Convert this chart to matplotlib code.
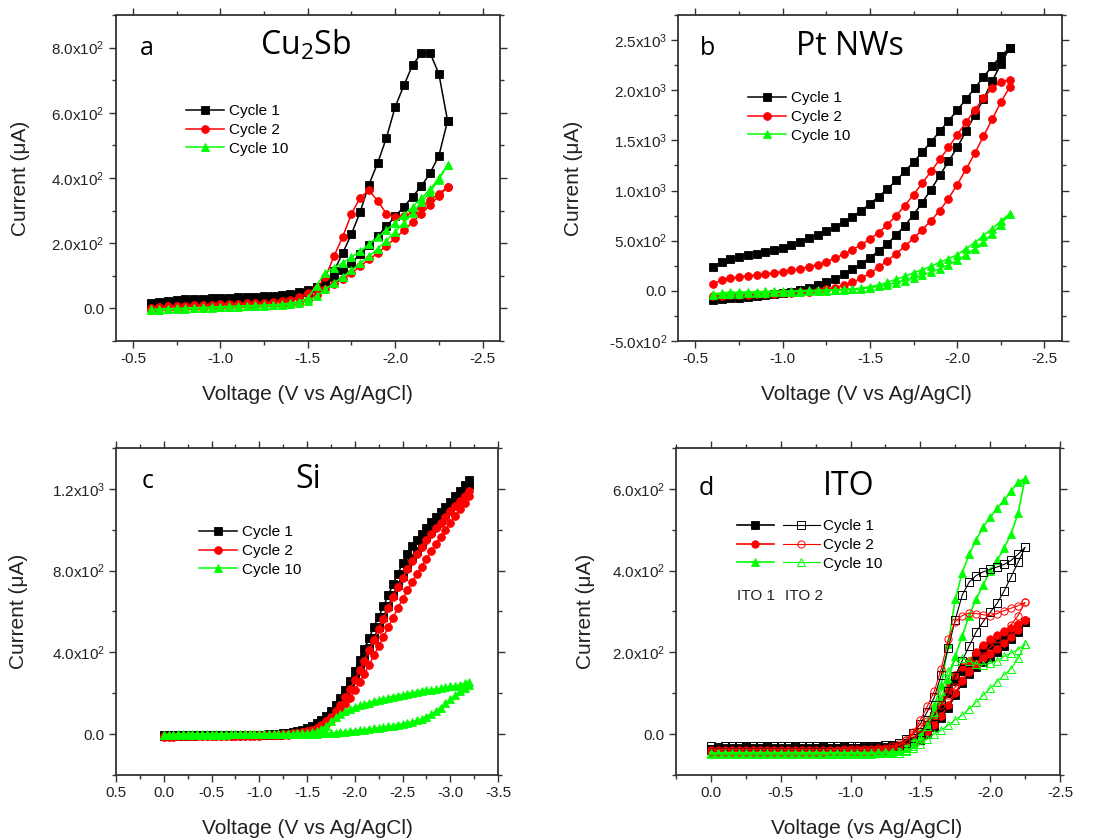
import numpy as np
import matplotlib
matplotlib.use('Agg')
import matplotlib.pyplot as plt
from matplotlib.ticker import MultipleLocator, FuncFormatter
from matplotlib.legend_handler import HandlerTuple

plt.rcParams['font.family'] = ['Liberation Sans', 'DejaVu Sans']
plt.rcParams['axes.unicode_minus'] = False

BLACK, RED, GREEN = '#000000', '#ff0000', '#00ff00'

# ── data (current in uA; "fwd" = cathodic sweep, "rev" = return sweep, both listed along V) ──
# panel a: Cu2Sb
V_A = [-0.60, -0.65, -0.70, -0.75, -0.80, -0.85, -0.90, -0.95, -1.00, -1.05, -1.10, -1.15,
       -1.20, -1.25, -1.30, -1.35, -1.40, -1.45, -1.50, -1.55, -1.60, -1.65, -1.70, -1.75,
       -1.80, -1.85, -1.90, -1.95, -2.00, -2.05, -2.10, -2.15, -2.20, -2.25, -2.30]
A_C1_FWD = [18, 21, 24, 26, 28, 29, 30, 31, 32, 33, 34, 35, 36, 37, 39, 41, 44, 49, 57,
            66, 77, 115, 170, 228, 296, 380, 446, 523, 618, 684, 747, 782, 783, 720, 575]
A_C1_REV = [14, 17, 19, 21, 23, 24, 25, 26, 27, 28, 29, 30, 31, 32, 34, 36, 39, 42, 50,
            62, 78, 97, 117, 140, 166, 193, 222, 252, 282, 312, 343, 375, 415, 468, 575]
A_C2_FWD = [2, 4, 6, 7, 8, 9, 10, 11, 12, 13, 14, 15, 16, 18, 20, 23, 27, 35, 48,
            62, 95, 160, 220, 290, 340, 362, 330, 290, 279, 283, 295, 312, 332, 352, 372]
A_C2_REV = [-4, -3, -2, -1, 0, 1, 2, 3, 4, 5, 6, 7, 8, 9, 10, 11, 13, 17, 25,
            40, 58, 75, 90, 108, 130, 150, 170, 192, 215, 240, 265, 290, 317, 345, 372]
A_C10_FWD = [-3, -2, -1, 0, 1, 2, 3, 4, 5, 6, 7, 8, 9, 10, 11, 13, 16, 21, 32,
             70, 110, 125, 140, 157, 176, 196, 218, 240, 263, 287, 312, 338, 365, 400, 440]
A_C10_REV = [-5, -4, -3, -2, -1, 0, 1, 2, 3, 4, 5, 6, 7, 8, 9, 10, 12, 15, 22,
             38, 58, 78, 97, 117, 138, 160, 183, 208, 235, 263, 293, 325, 358, 395, 440]

# panel b: Pt NWs
V_B = V_A
B_C1_FWD = [240, 290, 320, 340, 355, 368, 385, 405, 425, 455, 490, 525, 560, 600, 640, 685, 740,
            800, 865, 940, 1015, 1100, 1190, 1285, 1385, 1485, 1590, 1695, 1800, 1910, 2020,
            2130, 2240, 2340, 2420]
B_C1_REV = [-90, -82, -76, -70, -62, -55, -45, -35, -22, -8, 10, 30, 55, 85, 120, 165, 215,
            270, 330, 400, 470, 555, 650, 760, 880, 1010, 1150, 1290, 1430, 1590, 1750,
            1910, 2090, 2260, 2420]
B_C2_FWD = [70, 105, 125, 140, 150, 158, 168, 180, 192, 205, 220, 240, 262, 290, 325, 365, 410,
            460, 515, 580, 660, 750, 850, 960, 1075, 1190, 1310, 1430, 1555, 1680, 1800,
            1920, 2020, 2085, 2100]
B_C2_REV = [-55, -50, -46, -43, -40, -36, -33, -30, -25, -20, -15, -8, 2, 15, 32, 55, 85,
            125, 175, 235, 300, 370, 445, 525, 610, 700, 800, 920, 1060, 1210, 1370,
            1540, 1710, 1880, 2030]
B_C10_FWD = [-30, -20, -15, -12, -10, -8, -6, -4, -2, 0, 2, 4, 6, 8, 11, 15, 20,
             28, 40, 58, 85, 115, 145, 180, 210, 245, 285, 320, 360, 420, 480,
             550, 620, 695, 770]
B_C10_REV = [-38, -34, -31, -28, -25, -22, -19, -16, -13, -10, -7, -4, -1, 2, 5, 9, 14,
             22, 32, 45, 62, 82, 103, 127, 155, 185, 220, 260, 305, 360, 420,
             490, 570, 660, 770]

# panel c: Si
V_C = [0.00, -0.05, -0.10, -0.15, -0.20, -0.25, -0.30, -0.35, -0.40, -0.45, -0.50, -0.55, -0.60,
       -0.65, -0.70, -0.75, -0.80, -0.85, -0.90, -0.95, -1.00, -1.05, -1.10, -1.15, -1.20,
       -1.25, -1.30, -1.35, -1.40, -1.45, -1.50, -1.55, -1.60, -1.65, -1.70,
       -1.75, -1.80, -1.85, -1.90, -1.95, -2.00, -2.05, -2.10, -2.15, -2.20,
       -2.25, -2.30, -2.35, -2.40, -2.45, -2.50, -2.55, -2.60, -2.65, -2.70,
       -2.75, -2.80, -2.85, -2.90, -2.95, -3.00, -3.05, -3.10, -3.15, -3.20]
C_C1_FWD = [-6, -6, -5, -5, -5, -5, -5, -5, -4, -4, -4, -4, -4,
            -4, -4, -3, -3, -3, -3, -3, -2, -2, -1, 0, 1,
            3, 6, 9, 14, 20, 28, 38, 52, 68, 88,
            112, 140, 175, 215, 260, 310, 362, 415, 470, 525,
            575, 625, 680, 733, 785, 835, 880, 920, 952, 980,
            1008, 1036, 1062, 1088, 1112, 1137, 1163, 1190, 1217, 1245]
C_C1_REV = [-8, -8, -7, -7, -7, -7, -7, -6, -6, -6, -6, -6, -6,
            -5, -5, -5, -5, -5, -4, -4, -4, -3, -3, -2, -2,
            -1, 2, 4, 7, 12, 18, 26, 38, 52, 70,
            93, 120, 152, 190, 230, 275, 322, 370, 420, 470,
            522, 575, 628, 680, 728, 775, 818, 860, 897, 930,
            963, 995, 1023, 1050, 1078, 1105, 1132, 1160, 1190, 1220]
C_C2_FWD = [-10, -10, -10, -9, -9, -9, -9, -9, -8, -8, -8, -8, -8,
            -7, -7, -7, -7, -6, -6, -6, -5, -5, -4, -3, -2,
            0, 2, 4, 6, 9, 13, 20, 30, 44, 62,
            85, 112, 143, 180, 220, 265, 312, 360, 410, 460,
            512, 565, 618, 670, 718, 765, 808, 845, 882, 915,
            948, 980, 1008, 1035, 1063, 1090, 1115, 1140, 1165, 1190]
C_C2_REV = [-12, -12, -12, -11, -11, -11, -11, -10, -10, -10, -10, -9, -9,
            -9, -9, -8, -8, -8, -7, -7, -7, -6, -6, -5, -4,
            -3, -2, 0, 2, 4, 8, 14, 22, 34, 50,
            68, 90, 116, 145, 178, 215, 255, 295, 340, 385,
            430, 475, 522, 570, 615, 660, 703, 745, 783, 820,
            858, 895, 930, 965, 1000, 1035, 1068, 1100, 1133, 1165]
C_C10_FWD = [-2, -2, -2, -1, -1, -1, -1, -1, 0, 0, 0, 0, 0,
             0, 0, 0, 0, 0, 0, 0, 0, 1, 1, 1, 1,
             1, 2, 2, 3, 4, 5, 8, 14, 25, 42,
             62, 82, 98, 112, 123, 132, 140, 147, 154, 160,
             166, 172, 178, 183, 188, 193, 198, 202, 206, 210,
             214, 218, 221, 225, 229, 233, 237, 242, 248, 255]
C_C10_REV = [-3, -3, -3, -3, -3, -2, -2, -2, -2, -2, -2, -2, -2,
             -2, -1, -1, -1, -1, -1, -1, -1, -1, 0, 0, 0,
             0, 0, 0, 0, 0, 0, 1, 2, 3, 4,
             5, 7, 9, 11, 13, 16, 19, 22, 25, 28,
             31, 35, 38, 42, 46, 50, 55, 60, 67, 75,
             85, 98, 113, 130, 150, 170, 190, 210, 226, 240]

# panel d: ITO (ITO 1 filled markers, ITO 2 open markers)
V_D = [0.00, -0.05, -0.10, -0.15, -0.20, -0.25, -0.30, -0.35, -0.40, -0.45, -0.50, -0.55, -0.60, -0.65,
       -0.70, -0.75, -0.80, -0.85, -0.90, -0.95, -1.00, -1.05, -1.10, -1.15, -1.20, -1.25, -1.30, -1.35,
       -1.40, -1.45, -1.50, -1.55, -1.60, -1.65, -1.70, -1.75, -1.80,
       -1.85, -1.90, -1.95, -2.00, -2.05, -2.10, -2.15, -2.20, -2.25]
D1_C1_FWD = [-36, -33, -34, -33, -33, -32, -33, -34, -32, -33, -33, -33, -32, -33,
             -33, -33, -32, -33, -33, -32, -33, -33, -32, -32, -32, -31, -30, -28,
             -25, -20, -15, 8, 35, 65, 100, 130, 155, 175, 190, 205, 218, 228, 238, 250, 262, 275]
D1_C1_REV = [-38, -37, -37, -37, -36, -36, -36, -36, -36, -36, -36, -36, -36, -36,
             -36, -36, -36, -36, -35, -35, -35, -35, -35, -35, -34, -34, -33, -32,
             -30, -25, -15, 0, 18, 40, 65, 95, 125, 148, 165, 177, 188, 200, 215, 232, 250, 275]
D1_C2_FWD = [-40, -38, -38, -39, -38, -38, -38, -39, -38, -38, -38, -38, -38, -38,
             -39, -38, -38, -38, -38, -38, -38, -38, -38, -37, -37, -37, -36, -35,
             -33, -25, -10, 15, 45, 80, 115, 145, 165, 180, 200, 218, 232, 243, 252, 260, 270, 280]
D1_C2_REV = [-42, -42, -42, -42, -42, -42, -42, -42, -41, -41, -41, -41, -41, -41,
             -41, -41, -41, -41, -40, -40, -40, -40, -40, -40, -40, -39, -38, -36,
             -32, -22, -10, 5, 22, 45, 70, 100, 130, 155, 172, 185, 196, 208, 222, 238, 255, 280]
D1_C10_FWD = [-45, -44, -44, -44, -44, -44, -44, -44, -44, -44, -44, -44, -44, -44,
              -44, -44, -44, -44, -44, -44, -44, -44, -44, -43, -43, -42, -41, -39,
              -35, -25, -5, 30, 70, 120, 220, 330, 395, 440, 475, 507, 530, 552, 572, 595, 616, 625]
D1_C10_REV = [-47, -47, -47, -47, -47, -47, -47, -47, -47, -47, -46, -46, -46, -46,
              -46, -46, -46, -46, -46, -46, -46, -46, -45, -45, -45, -44, -42, -36,
              -28, -15, 5, 25, 50, 85, 135, 190, 240, 290, 331, 365, 400, 425, 455, 490, 540, 625]
D2_C1_FWD = [-30, -31, -30, -30, -29, -30, -28, -29, -30, -30, -30, -30, -30, -29,
             -30, -30, -30, -30, -30, -30, -29, -29, -29, -28, -28, -27, -26, -22,
             -12, 2, 25, 55, 90, 145, 210, 280, 340, 372, 388, 397, 403, 409, 415, 425, 440, 457]
D2_C1_REV = [-36, -36, -36, -36, -36, -36, -36, -36, -36, -36, -36, -36, -36, -36,
             -36, -35, -35, -35, -35, -35, -35, -35, -35, -34, -34, -33, -32, -30,
             -22, -10, 5, 22, 45, 72, 105, 143, 180, 216, 250, 275, 298, 320, 350, 385, 420, 457]
D2_C2_FWD = [-38, -38, -38, -38, -38, -38, -38, -38, -38, -38, -38, -38, -38, -38,
             -38, -38, -38, -38, -38, -37, -37, -37, -36, -36, -35, -33, -30, -25,
             -15, 5, 35, 68, 105, 160, 232, 275, 290, 296, 295, 292, 290, 295, 302, 308, 314, 322]
D2_C2_REV = [-43, -43, -43, -43, -43, -43, -43, -43, -43, -43, -43, -43, -43, -43,
             -43, -43, -43, -42, -42, -42, -42, -42, -42, -41, -40, -38, -34, -28,
             -15, 0, 15, 32, 50, 72, 95, 115, 132, 152, 172, 192, 212, 233, 250, 268, 290, 322]
D2_C10_FWD = [-46, -45, -45, -45, -45, -45, -45, -45, -45, -45, -45, -45, -45, -45,
              -45, -45, -45, -45, -45, -45, -45, -45, -45, -45, -44, -44, -43, -42,
              -40, -30, -10, 20, 55, 105, 155, 180, 185, 178, 172, 170, 173, 180, 190, 198, 207, 220]
D2_C10_REV = [-48, -48, -48, -48, -48, -48, -48, -48, -48, -48, -48, -48, -48, -48,
              -48, -48, -48, -48, -48, -48, -48, -48, -48, -48, -47, -47, -46, -45,
              -42, -35, -25, -12, 0, 10, 22, 35, 47, 62, 78, 95, 112, 128, 145, 160, 185, 220]

CYCLES = ['Cycle 1', 'Cycle 2', 'Cycle 10']

# ── helpers ───────────────────────────────────────────────────────────────────
W, H = 1104, 838


def px(x, y):
    return (x / W, 1 - y / H)


def sci(v, pos):
    if abs(v) < 1e-9:
        return '0.0'
    e = int(np.floor(np.log10(abs(v)) + 1e-9))
    return '%.1fx10$\\mathregular{^%d}$' % (v / 10 ** e, e)


def volt(v, pos):
    return '%.1f' % (0.0 if abs(v) < 1e-9 else v)


def loop(ax, v, fwd, rev, color, marker, **kw):
    assert len(v) == len(fwd) == len(rev), (len(v), len(fwd), len(rev))
    x = list(v) + list(v)[::-1]
    y = list(fwd) + list(rev)[::-1]
    return ax.plot(x, y, color=color, marker=marker, **kw)[0]


def style(ax, xlim, ylim, xmaj, ymaj):
    ax.set_xlim(*xlim)
    ax.set_ylim(*ylim)
    ax.xaxis.set_major_locator(MultipleLocator(xmaj))
    ax.xaxis.set_minor_locator(MultipleLocator(xmaj / 2))
    ax.yaxis.set_major_locator(MultipleLocator(ymaj))
    ax.yaxis.set_minor_locator(MultipleLocator(ymaj / 2))
    ax.xaxis.set_major_formatter(FuncFormatter(volt))
    ax.yaxis.set_major_formatter(FuncFormatter(sci))
    ax.tick_params(which='both', direction='out', top=True, right=True,
                   labelsize=11, width=1.0, color='#333333', labelcolor='#222222')
    ax.tick_params(which='major', length=5, pad=3)
    ax.tick_params(which='minor', length=3)
    for s in ax.spines.values():
        s.set_linewidth(1.3)
        s.set_color('#333333')


def labels(ax, xlabel, xl_x, xl_y, yl_x):
    ax.set_xlabel(xlabel, fontsize=15, color='#222222')
    ax.set_ylabel('Current (\u03bcA)', fontsize=15, color='#222222')
    ax.xaxis.set_label_coords(xl_x, xl_y)
    ax.yaxis.set_label_coords(yl_x, 0.5)


def heading(ax, letter, lx, title, tx, y):
    ax.text(lx, y, letter, transform=ax.transAxes, fontsize=18,
            family=['Open Sans', 'DejaVu Sans'], va='baseline', ha='left')
    ax.text(tx, y, title, transform=ax.transAxes, fontsize=23,
            family=['Open Sans', 'DejaVu Sans'], va='baseline', ha='center')


fig = plt.figure(figsize=(W / 100, H / 100), dpi=100)
ax_a = fig.add_axes([0.1047, 0.5931, 0.3482, 0.3890])
ax_b = fig.add_axes([0.6141, 0.5931, 0.3478, 0.3890])
ax_c = fig.add_axes([0.1051, 0.0752, 0.3460, 0.3902])
ax_d = fig.add_axes([0.6123, 0.0752, 0.3478, 0.3902])

kw = dict(lw=1.1, ms=5.6, mew=0.6)
leg_kw = dict(loc='upper left', bbox_transform=fig.transFigure, frameon=False,
              borderpad=0, borderaxespad=0, handlelength=2.5, handletextpad=0.3,
              labelspacing=0.32, fontsize=11)

# ── (a) Cu2Sb ──
h = [loop(ax_a, V_A, A_C1_FWD, A_C1_REV, BLACK, 's', **kw),
     loop(ax_a, V_A, A_C2_FWD, A_C2_REV, RED, 'o', **kw),
     loop(ax_a, V_A, A_C10_FWD, A_C10_REV, GREEN, '^', **kw)]
style(ax_a, (-0.4, -2.6), (-100, 900), 0.5, 200)
labels(ax_a, 'Voltage (V vs Ag/AgCl)', 0.5, -0.135, -0.223)
heading(ax_a, 'a', 0.062, 'Cu$\\mathregular{_2}$Sb', 0.495, 0.877)
ax_a.legend(h, CYCLES, bbox_to_anchor=px(186, 104), **leg_kw)

# ── (b) Pt NWs ──
h = [loop(ax_b, V_B, B_C1_FWD, B_C1_REV, BLACK, 's', **kw),
     loop(ax_b, V_B, B_C2_FWD, B_C2_REV, RED, 'o', **kw),
     loop(ax_b, V_B, B_C10_FWD, B_C10_REV, GREEN, '^', **kw)]
style(ax_b, (-0.4, -2.6), (-500, 2750), 0.5, 500)
labels(ax_b, 'Voltage (V vs Ag/AgCl)', 0.49, -0.135, -0.247)
heading(ax_b, 'b', 0.057, 'Pt NWs', 0.448, 0.877)
ax_b.legend(h, CYCLES, bbox_to_anchor=px(748, 91), **leg_kw)

# ── (c) Si ──
h = [loop(ax_c, V_C, C_C1_FWD, C_C1_REV, BLACK, 's', **kw),
     loop(ax_c, V_C, C_C2_FWD, C_C2_REV, RED, 'o', **kw),
     loop(ax_c, V_C, C_C10_FWD, C_C10_REV, GREEN, '^', **kw)]
style(ax_c, (0.5, -3.5), (-200, 1400), 0.5, 400)
labels(ax_c, 'Voltage (V vs Ag/AgCl)', 0.5, -0.135, -0.230)
heading(ax_c, 'c', 0.068, 'Si', 0.503, 0.878)
ax_c.legend(h, CYCLES, bbox_to_anchor=px(199, 525), **leg_kw)

# ── (d) ITO ──
fk = dict(lw=1.2, ms=5.4, mew=0.6)
ok = dict(lw=0.8, ms=5.2, mew=0.7, mfc='none')
f1 = [loop(ax_d, V_D, D1_C1_FWD, D1_C1_REV, BLACK, 's', **fk),
      loop(ax_d, V_D, D1_C2_FWD, D1_C2_REV, RED, 'o', **fk),
      loop(ax_d, V_D, D1_C10_FWD, D1_C10_REV, GREEN, '^', **fk)]
f2 = [loop(ax_d, V_D, D2_C1_FWD, D2_C1_REV, BLACK, 's', **ok),
      loop(ax_d, V_D, D2_C2_FWD, D2_C2_REV, RED, 'o', **ok),
      loop(ax_d, V_D, D2_C10_FWD, D2_C10_REV, GREEN, '^', **ok)]
style(ax_d, (0.25, -2.5), (-100, 700), 0.5, 200)
labels(ax_d, 'Voltage (vs Ag/AgCl)', 0.497, -0.135, -0.211)
heading(ax_d, 'd', 0.06, 'ITO', 0.45, 0.856)
d_kw = dict(leg_kw, handlelength=5.4, handletextpad=0.2)
ax_d.legend([(a, b) for a, b in zip(f1, f2)], CYCLES, bbox_to_anchor=px(737, 519),
            handler_map={tuple: HandlerTuple(ndivide=None, pad=0.6)}, **d_kw)
fig.text(*px(737, 596), 'ITO 1', fontsize=11, va='center', ha='left', color='#222222')
fig.text(*px(785, 596), 'ITO 2', fontsize=11, va='center', ha='left', color='#222222')

fig.savefig('out.png', dpi=100)
